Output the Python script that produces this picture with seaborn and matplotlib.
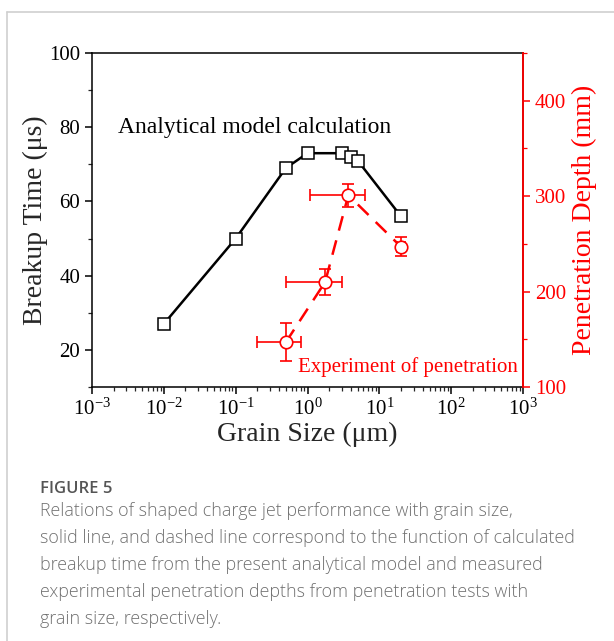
import numpy as np
import pandas as pd
import matplotlib
matplotlib.use("Agg")
import matplotlib.pyplot as plt
import matplotlib.ticker as ticker
from matplotlib.lines import Line2D
import seaborn as sns

sns.set_style('ticks')
plt.rcParams['font.family'] = ['Liberation Serif', 'DejaVu Serif']
plt.rcParams['mathtext.fontset'] = 'custom'
plt.rcParams['mathtext.rm'] = 'Liberation Serif'
plt.rcParams['mathtext.it'] = 'Liberation Serif:italic'

# analytical model (left axis)
model_size = [0.01, 0.1, 0.5, 1.0, 3.0, 4.0, 5.0, 20.0]
model_time = [27, 50, 69, 73, 73, 72, 71, 56]

# penetration experiment (right axis)
exp_size = [0.5, 1.76, 3.7, 20.0]
exp_depth = [147, 210, 301, 247]
exp_size_err = [0.3, 1.25, 2.6, 2.5]
exp_depth_err = [20, 14, 12, 10]

red = '#ff0000'


def log_label(v, pos):
    e = int(round(np.log10(v)))
    if e < 0:
        return '$10^{\u2010%d}$' % (-e)
    return r'$10^{%d}$' % e


fig = plt.figure(figsize=(6.14, 6.41), dpi=100)
ax = fig.add_axes([92 / 614, 1 - 387 / 641, 431 / 614, 334 / 641])

df_model = pd.DataFrame({'size': model_size, 'time': model_time})
sns.lineplot(data=df_model, x='size', y='time', ax=ax, color='black', lw=1.8,
             marker='s', markersize=8, markerfacecolor='white',
             markeredgecolor='black', markeredgewidth=1.1, zorder=3)

ax.set_xscale('log')
ax.set_xlim(1e-3, 1e3)
ax.set_ylim(10, 100)
ax.set_yticks([20, 40, 60, 80, 100])
ax.yaxis.set_minor_locator(ticker.MultipleLocator(10))
ax.xaxis.set_major_locator(ticker.LogLocator(base=10, numticks=10))
ax.xaxis.set_minor_locator(ticker.LogLocator(base=10, subs=np.arange(2, 10), numticks=20))
ax.xaxis.set_major_formatter(ticker.FuncFormatter(log_label))
ax.tick_params(axis='both', which='major', direction='out', length=5, width=1.1, labelsize=15, colors='black')
ax.tick_params(axis='both', which='minor', direction='out', length=3, width=0.9)
ax.set_xlabel('Grain Size (μm)', fontsize=20, labelpad=1)
ax.set_ylabel('Breakup Time (μs)', fontsize=20, labelpad=1)
for s in ax.spines.values():
    s.set_linewidth(1.1)
    s.set_color('black')

fig.text(118 / 614, 1 - 128 / 641, 'Analytical model calculation', fontsize=17,
         va='center', ha='left', color='black')

ax2 = ax.twinx()
df_exp = pd.DataFrame({'size': exp_size, 'depth': exp_depth})
sns.lineplot(data=df_exp, x='size', y='depth', ax=ax2, color=red, lw=1.8,
             linestyle=(0, (6, 4)), zorder=3)
ax2.errorbar(exp_size, exp_depth, xerr=exp_size_err, yerr=exp_depth_err, fmt='o',
             color=red, markerfacecolor='white', markeredgecolor=red,
             markersize=9, markeredgewidth=1.2, elinewidth=1.2, capsize=4,
             capthick=1.2, zorder=4)
ax2.set_ylim(100, 450)
ax2.set_yticks([100, 200, 300, 400])
ax2.yaxis.set_minor_locator(ticker.MultipleLocator(50))
ax2.set_xscale('log')
ax2.set_xlim(1e-3, 1e3)
ax2.tick_params(axis='y', which='major', direction='out', length=5, width=1.1,
                labelsize=15, colors=red)
ax2.tick_params(axis='y', which='minor', direction='out', length=3, width=0.9, colors=red)
ax2.set_ylabel('Penetration Depth (mm)', fontsize=20, color=red, labelpad=4)
ax2.spines['right'].set_color(red)
ax2.spines['right'].set_linewidth(1.3)
for k in ['left', 'top', 'bottom']:
    ax2.spines[k].set_visible(False)
ax2.set_xlabel('')

fig.text(518 / 614, 1 - 367 / 641, 'Experiment of penetration', fontsize=15,
         va='center', ha='right', color=red)

# card border
fig.add_artist(Line2D([7 / 614, 7 / 614], [0, 1 - 12 / 641], color='#cfcfcf', lw=1.2))
fig.add_artist(Line2D([7 / 614, 1], [1 - 12 / 641, 1 - 12 / 641], color='#cfcfcf', lw=1.2))

cap_font = ['Open Sans', 'DejaVu Sans']
fig.text(40 / 614, 1 - 489 / 641, 'FIGURE 5', family=cap_font, fontsize=12,
         color='#555555', va='center', ha='left', fontweight='semibold')
caption = ['Relations of shaped charge jet performance with grain size,',
           'solid line, and dashed line correspond to the function of calculated',
           'breakup time from the present analytical model and measured',
           'experimental penetration depths from penetration tests with',
           'grain size, respectively.']
for i, line in enumerate(caption):
    fig.text(40 / 614, 1 - (511 + i * 27) / 641, line, family=cap_font,
             fontsize=12.9, color='#707070', va='center', ha='left',
             fontweight='light')

fig.savefig('out.png', dpi=100)
